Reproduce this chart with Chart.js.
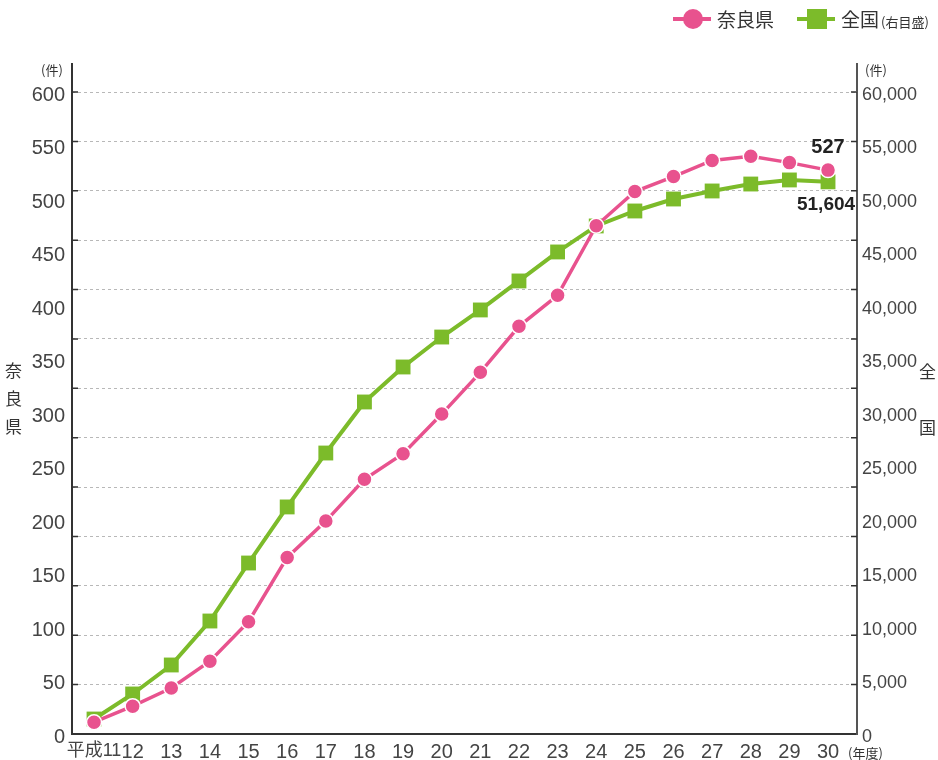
<!DOCTYPE html>
<html lang="ja">
<head>
<meta charset="utf-8">
<script src="https://cdn.jsdelivr.net/npm/chart.js@4.4.1/dist/chart.umd.min.js"></script>
<style>
  html, body { margin: 0; padding: 0; background: #fff; }
  #wrap { position: relative; width: 938px; height: 760px; font-family: 'Noto Sans CJK JP', sans-serif; color: #333; }
  #chart { position: absolute; left: 0; top: 0; }
  .txt { position: absolute; white-space: nowrap; line-height: 1; }
  .leg-line { position: absolute; height: 4px; }
  .leg-dot { position: absolute; width: 20px; height: 20px; border-radius: 50%; }
  .leg-sq { position: absolute; width: 20px; height: 20px; }
</style>
</head>
<body>
<div id="wrap">
  <canvas id="chart" width="938" height="760"></canvas>

  <!-- legend -->
  <div class="leg-line" style="left:673px; top:17px; width:38px; background:#E8528E;"></div>
  <div class="leg-dot" style="left:683px; top:9px; background:#E8528E;"></div>
  <div class="txt" style="left:717px; top:9px; font-size:19px;">奈良県</div>
  <div class="leg-line" style="left:797px; top:17px; width:38px; background:#7CBB2A;"></div>
  <div class="leg-sq" style="left:807px; top:9px; background:#7CBB2A;"></div>
  <div class="txt" style="left:841px; top:9px; font-size:19px;">全国<span style="font-size:13px; margin-left:2px;">(右目盛)</span></div>

  <!-- units and axis titles -->
  <div class="txt" style="left:41px; top:63px; font-size:13px;">(件)</div>
  <div class="txt" style="left:865px; top:63px; font-size:13px;">(件)</div>
  <div class="txt" style="left:848px; top:746px; font-size:13px;">(年度)</div>
  <div class="txt" style="left:5px; top:356px; font-size:17px; line-height:28px;">奈<br>良<br>県</div>
  <div class="txt" style="left:919px; top:343px; font-size:17px; line-height:56px;">全<br>国</div>
</div>

<script>
// data
const years = [11, 12, 13, 14, 15, 16, 17, 18, 19, 20, 21, 22, 23, 24, 25, 26, 27, 28, 29, 30];
const yearLabels = ['平成11', '12', '13', '14', '15', '16', '17', '18', '19', '20',
                    '21', '22', '23', '24', '25', '26', '27', '28', '29', '30'];
const naraCounts = [11, 26, 43, 68, 105, 165, 199, 238, 262, 299, 338, 381, 410, 475, 507, 521, 536, 540, 534, 527];
const zenkokuCounts = [1400, 3740, 6450, 10560, 15980, 21220, 26260, 31030, 34300, 37100,
                       39630, 42340, 45050, 47480, 48880, 50000, 50750, 51400, 51780, 51604];
const leftTicks = [0, 50, 100, 150, 200, 250, 300, 350, 400, 450, 500, 550, 600];
const rightTicks = [0, 5000, 10000, 15000, 20000, 25000, 30000, 35000, 40000, 45000, 50000, 55000, 60000];
const gridLines = [0, 1, 2, 3, 4, 5, 6, 7, 8, 9, 10, 11, 12, 13];

const PINK = '#E8528E';
const GREEN = '#7CBB2A';
const numFont = "'Liberation Sans Narrow', 'Liberation Sans', 'Noto Sans CJK JP', sans-serif";

// short tick marks inside the plot at the grid lines, and axis lines running up past the top
const innerTicks = {
    id: 'innerTicks',
    beforeDatasetsDraw(chart) {
        const ctx = chart.ctx;
        const area = chart.chartArea;
        const g = chart.scales.g;
        ctx.save();
        ctx.strokeStyle = '#333';
        ctx.lineWidth = 1.5;
        g.ticks.forEach(function (t) {
            if (t.value === 0) return;
            const y = g.getPixelForValue(t.value);
            ctx.beginPath();
            ctx.moveTo(area.left, y);
            ctx.lineTo(area.left + 6, y);
            ctx.moveTo(area.right - 6, y);
            ctx.lineTo(area.right, y);
            ctx.stroke();
        });
        ctx.lineWidth = 2;
        ctx.beginPath();
        ctx.moveTo(area.left, area.top);
        ctx.lineTo(area.left, area.top - 29);
        ctx.stroke();
        ctx.strokeStyle = '#555';
        ctx.beginPath();
        ctx.moveTo(area.right, area.top);
        ctx.lineTo(area.right, area.top - 29);
        ctx.stroke();
        ctx.restore();
    }
};

// value labels at the last year
const endLabels = {
    id: 'endLabels',
    afterDatasetsDraw(chart) {
        const ctx = chart.ctx;
        const last = years.length - 1;
        const pNara = chart.getDatasetMeta(0).data[last];
        const pZen = chart.getDatasetMeta(1).data[last];
        ctx.save();
        ctx.fillStyle = '#222';
        ctx.textAlign = 'center';
        ctx.textBaseline = 'middle';
        ctx.font = 'bold 20px ' + numFont;
        ctx.fillText(String(naraCounts[last]), pNara.x, pNara.y - 23);
        ctx.font = 'bold 19px ' + numFont;
        ctx.fillText(zenkokuCounts[last].toLocaleString('en-US'), pZen.x - 2, pZen.y + 23);
        ctx.restore();
    }
};

new Chart(document.getElementById('chart'), {
    type: 'line',
    data: {
        datasets: [
            {
                label: '奈良県',
                data: years.map((y, i) => ({ x: y, y: naraCounts[i] })),
                yAxisID: 'y',
                borderColor: PINK,
                backgroundColor: PINK,
                borderWidth: 3.5,
                pointStyle: 'circle',
                pointRadius: 7.5,
                pointBorderColor: '#fff',
                pointBorderWidth: 1.5,
                pointBackgroundColor: PINK,
                order: 0
            },
            {
                label: '全国',
                data: years.map((y, i) => ({ x: y, y: zenkokuCounts[i] })),
                yAxisID: 'y2',
                borderColor: GREEN,
                backgroundColor: GREEN,
                borderWidth: 4,
                pointStyle: 'rect',
                pointRadius: 10.5,
                pointBorderWidth: 0,
                pointBackgroundColor: GREEN,
                order: 1
            }
        ]
    },
    options: {
        responsive: false,
        animation: false,
        layout: { padding: { top: 92, left: 0, right: 0, bottom: 0 } },
        plugins: {
            legend: { display: false },
            tooltip: { enabled: false }
        },
        scales: {
            x: {
                type: 'linear',
                min: 10.43,
                max: 30.75,
                afterBuildTicks: (s) => { s.ticks = years.map(v => ({ value: v })); },
                afterFit: (s) => { s.height = 26; },
                grid: { display: false, drawTicks: false },
                border: { display: true, color: '#333', width: 2 },
                ticks: {
                    autoSkip: false,
                    maxRotation: 0,
                    padding: 6,
                    color: '#444',
                    font: (c) => ({ family: numFont, size: c.index === 0 ? 18 : 20 }),
                    callback: (v) => yearLabels[years.indexOf(v)]
                }
            },
            g: {
                type: 'linear',
                position: 'left',
                min: 0,
                max: 13,
                afterBuildTicks: (s) => { s.ticks = gridLines.map(v => ({ value: v })); },
                afterFit: (s) => { s.width = 0; },
                ticks: { display: false },
                border: { display: false, dash: [3, 3] },
                grid: {
                    drawTicks: false,
                    color: (c) => c.tick.value === 0 ? 'rgba(0,0,0,0)' : '#b8b8b8',
                    lineWidth: 1
                }
            },
            y: {
                position: 'left',
                min: 0,
                max: 600,
                afterBuildTicks: (s) => { s.ticks = leftTicks.map(v => ({ value: v })); },
                afterFit: (s) => { s.width = 72; },
                grid: { display: false, drawTicks: false },
                border: { display: true, color: '#333', width: 2 },
                ticks: {
                    color: '#444',
                    padding: 7,
                    labelOffset: 3,
                    font: { family: numFont, size: 20 }
                }
            },
            y2: {
                position: 'right',
                min: 0,
                max: 60000,
                afterBuildTicks: (s) => { s.ticks = rightTicks.map(v => ({ value: v })); },
                afterFit: (s) => { s.width = 81; },
                grid: { display: false, drawTicks: false },
                border: { display: true, color: '#555', width: 2 },
                ticks: {
                    color: '#444',
                    padding: 5,
                    labelOffset: 3,
                    font: { family: numFont, size: 18 },
                    callback: (v) => v.toLocaleString('en-US')
                }
            }
        }
    },
    plugins: [innerTicks, endLabels]
});
</script>
</body>
</html>
